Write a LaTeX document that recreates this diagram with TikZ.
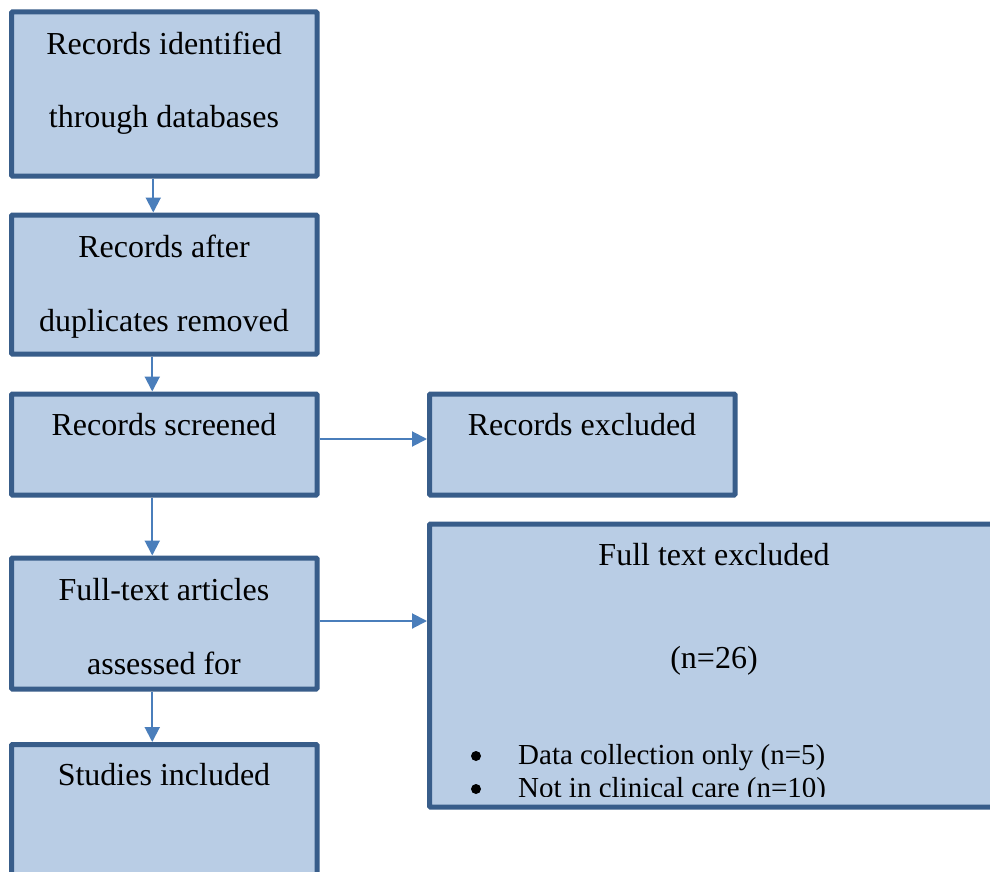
\documentclass[tikz,border=0pt]{standalone}
\usepackage{fontspec}
\setmainfont{Liberation Serif}
\usetikzlibrary{arrows.meta}
\definecolor{boxfill}{HTML}{B9CDE5}
\definecolor{boxline}{HTML}{385D8A}
\definecolor{arrowblue}{HTML}{4A7EBB}

\begin{document}
\begin{tikzpicture}[x=1pt,y=-1pt,
  flowbox/.style={rectangle, draw=boxline, fill=boxfill, line width=5pt,
    inner sep=0pt, rounded corners=1pt},
  boxtext/.style={anchor=base, inner sep=0pt, font=\fontsize{32}{38}\selectfont},
  listtext/.style={anchor=base west, inner sep=0pt, font=\fontsize{29}{33}\selectfont},
  listdot/.style={circle, fill=black, minimum size=10pt, inner sep=0pt},
  flow/.style={draw=arrowblue, line width=2pt, -{Triangle[width=15pt,length=15pt]}}
]
\useasboundingbox (0,0) rectangle (990,872);
\clip (0,0) rectangle (990,872);
\fill[white] (0,0) rectangle (990,872);

% left column
\node[flowbox, minimum width=305.5pt, minimum height=164pt] (ident) at (164.25,94) {};
\node[flowbox, minimum width=305.5pt, minimum height=139pt] (dup) at (164.25,284.5) {};
\node[flowbox, minimum width=305.5pt, minimum height=101pt] (screen) at (164.25,444.5) {};
\node[flowbox, minimum width=305.5pt, minimum height=131pt] (full) at (164.25,623.5) {};
\node[flowbox, minimum width=305.5pt, minimum height=205pt] (incl) at (164.25,847) {};

% right column
\node[flowbox, minimum width=305.5pt, minimum height=101pt] (recex) at (582.25,444.5) {};
\node[flowbox, minimum width=670pt, minimum height=283pt] (ftex) at (764.5,665.5) {};

% box texts
\node[boxtext] (t1a) at (164,55) {Records identified};
\node[boxtext] (t1b) at (164,128) {through databases};
\node[boxtext] (t2a) at (164,257) {Records after};
\node[boxtext] (t2b) at (164,331) {duplicates removed};
\node[boxtext] (t3) at (164,435) {Records screened};
\node[boxtext] (t4a) at (164,600) {Full-text articles};
\node[boxtext] (t4b) at (164,674) {assessed for};
\node[boxtext] (t5) at (164,785) {Studies included};
\node[boxtext] (t6) at (582,435) {Records excluded};
\node[boxtext] (t7a) at (714,565) {Full text excluded};
\node[boxtext] (t7b) at (714,668) {(n=26)};

% exclusion reasons, cut off by the box bottom
\begin{scope}
\clip (432,526) rectangle (987,796);
\node[listdot] (d1) at (476,756) {};
\node[listtext] (l1) at (518,764) {Data collection only (n=5)};
\node[listdot] (d2) at (476,789) {};
\node[listtext] (l2) at (518,797.5) {Not in clinical care (n=10)};
\end{scope}

% connectors
\draw[flow] ([xshift=-11pt]ident.south) -- ([xshift=-11pt]dup.north);
\draw[flow] ([xshift=-12pt]dup.south) -- ([xshift=-12pt]screen.north);
\draw[flow] ([xshift=-12pt]screen.south) -- ([xshift=-12pt]full.north);
\draw[flow] ([xshift=-12pt]full.south) -- ([xshift=-12pt]incl.north);
\draw[flow] ([yshift=5.5pt]screen.east) -- ([yshift=5.5pt]screen.east -| recex.west);
\draw[flow] ([yshift=2.5pt]full.east) -- ([yshift=2.5pt]full.east -| ftex.west);
\end{tikzpicture}
\end{document}
